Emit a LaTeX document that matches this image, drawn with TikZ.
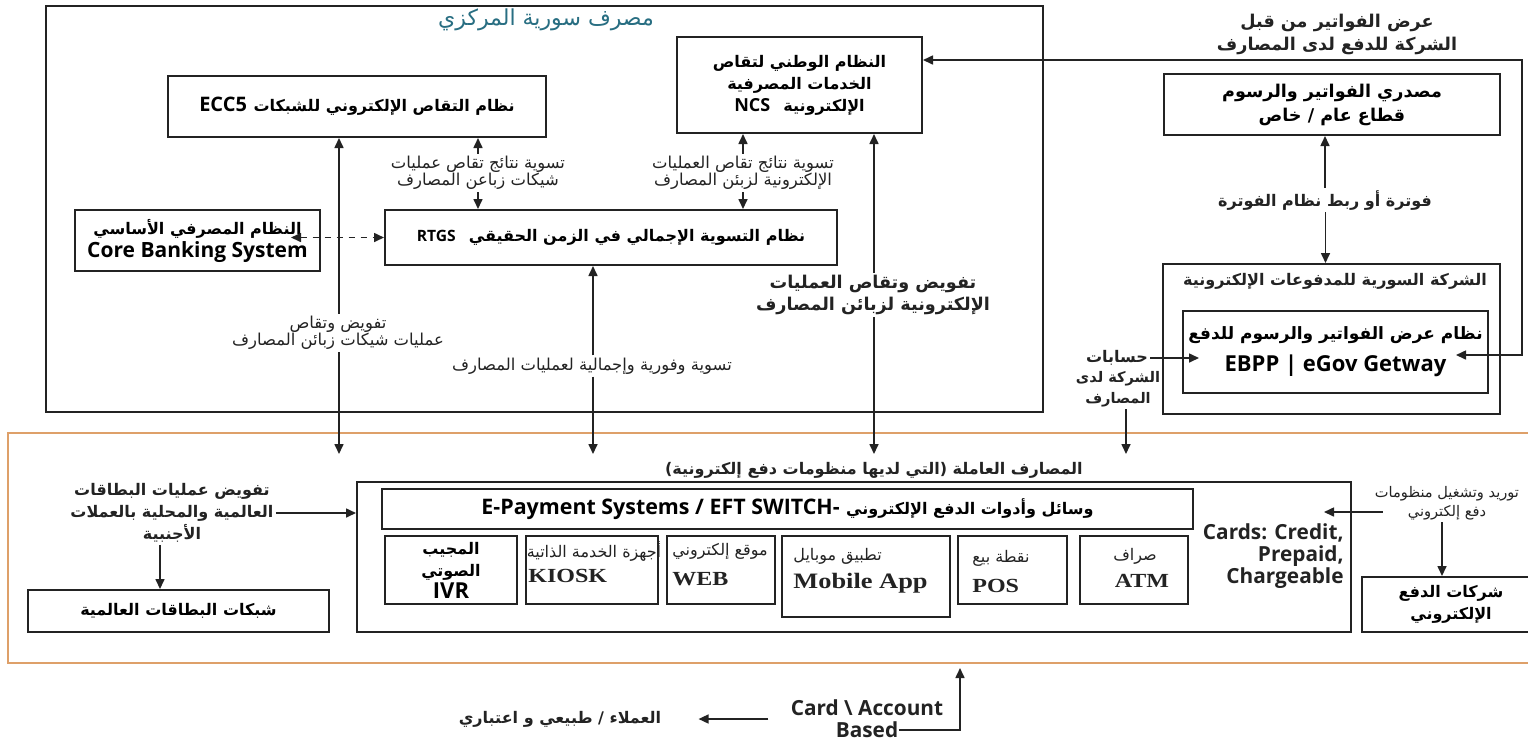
\documentclass[tikz,border=0pt]{standalone}
\usepackage{fontspec}
\usetikzlibrary{arrows.meta,calc}
\TeXXeTstate=1
\newfontfamily\arf[Script=Arabic]{DejaVu Sans}
\newfontfamily\latf{Open Sans}
\newfontfamily\serf[FakeStretch=1.2]{Liberation Serif}
\newdimen\pxu \pxu=0.5pt
\newcommand{\AR}[1]{{\arf\beginR #1\endR}}
\newcommand{\LT}[2][8]{{\latf\fontsize{#1}{11}\selectfont #2}}
\definecolor{ink}{RGB}{35,35,35}
\definecolor{tealt}{RGB}{40,110,130}
\definecolor{orng}{RGB}{222,160,105}
\begin{document}
\begin{tikzpicture}[x=0.5pt,y=-0.5pt,
  >={Triangle[length=5pt,width=4.5pt]},
  box/.style={draw=ink,line width=1pt,inner sep=0pt,align=center,
     font=\bfseries\fontsize{8}{11}\selectfont},
  conn/.style={draw=ink,line width=0.8pt},
  lbl/.style={inner sep=1pt,align=center,text=ink,font=\fontsize{8.2}{8.6}\selectfont},
  blbl/.style={inner sep=1pt,align=center,text=ink,font=\bfseries\fontsize{8}{11}\selectfont},
  arsm/.style={inner sep=0pt,text=ink,font=\fontsize{8}{9}\selectfont},
  serb/.style={inner sep=0pt,text=ink,font=\serf\bfseries\fontsize{10}{12}\selectfont},
  latb/.style={inner sep=0pt,align=right,text=ink,font=\latf\bfseries\fontsize{10.4}{11}\selectfont}
]
\useasboundingbox (0,0) rectangle (1528,741);
\fill[white] (0,0) rectangle (1528,741);

% ---------- boxes ----------
\node[box,minimum width=997\pxu,minimum height=406\pxu] (cb) at (544.5,209) {};
\node[inner sep=0pt,text=tealt,font=\fontsize{11}{12}\selectfont] (cbt) at (546,20) {\AR{مصرف سورية المركزي}};
\node[box,minimum width=378\pxu,minimum height=61\pxu] (ecc5) at (357,106.5)
  {\LT[10]{ECC5}\ \AR{نظام التقاص الإلكتروني للشبكات}};
\node[box,minimum width=245\pxu,minimum height=96\pxu] (ncs) at (799.5,85)
  {\AR{النظام الوطني لتقاص}\\\AR{الخدمات المصرفية}\\\LT[9]{NCS}\ \ \AR{الإلكترونية}};
\node[box,minimum width=452\pxu,minimum height=55\pxu] (rtgs) at (611,237.5)
  {\LT[7.8]{RTGS}\ \ \AR{نظام التسوية الإجمالي في الزمن الحقيقي}};
\node[box,minimum width=245\pxu,minimum height=61\pxu,font=\bfseries\fontsize{8}{11.5}\selectfont] (core) at (197.5,240.5)
  {\AR{النظام المصرفي الأساسي}\\\LT[10.5]{Core Banking System}};

\node[box,minimum width=336\pxu,minimum height=61\pxu,font=\bfseries\fontsize{8.8}{12}\selectfont] (issuer) at (1332,104.5)
  {\AR{مصدري الفواتير والرسوم}\\\AR{قطاع عام / خاص}};
\node[box,minimum width=337\pxu,minimum height=150\pxu] (comp) at (1331.5,339) {};
\node[blbl] (compt) at (1335,281) {\AR{الشركة السورية للمدفوعات الإلكترونية}};
\node[box,minimum width=305\pxu,minimum height=82\pxu,font=\bfseries\fontsize{8.5}{16}\selectfont] (ebpp) at (1335.5,352)
  {\AR{نظام عرض الفواتير والرسوم للدفع}\\\LT[11]{EBPP | eGov Getway}};

\node[draw=orng,line width=1pt,minimum width=1532\pxu,minimum height=230\pxu,inner sep=0pt] (banks) at (774,548) {};
\node[blbl] (bankst) at (874,470) {\AR{المصارف العاملة (التي لديها منظومات دفع إلكترونية)}};
\node[box,minimum width=994\pxu,minimum height=150\pxu] (epay) at (854,557) {};
\node[box,minimum width=811\pxu,minimum height=40\pxu] (eft) at (787.5,509)
  {\LT[10.7]{E-Payment Systems / EFT SWITCH-}\ \AR{وسائل وأدوات الدفع الإلكتروني}};
\node[box,minimum width=132\pxu,minimum height=68\pxu] (ivr) at (451,570)
  {\AR{المجيب}\\\AR{الصوتي}\\\LT[11]{IVR}};
\node[box,minimum width=132\pxu,minimum height=68\pxu] (kiosk) at (592,570) {};
\node[box,minimum width=108\pxu,minimum height=68\pxu] (web) at (721,570) {};
\node[box,minimum width=168\pxu,minimum height=81\pxu] (mob) at (866,576.5) {};
\node[box,minimum width=109\pxu,minimum height=68\pxu] (pos) at (1012.5,570) {};
\node[box,minimum width=108\pxu,minimum height=68\pxu] (atm) at (1134,570) {};
\node[arsm] (kioskA) at (594,551) {\AR{أجهزة الخدمة الذاتية}};
\node[serb,anchor=west] (kioskB) at (528,576) {KIOSK};
\node[arsm] (webA) at (720,551) {\AR{موقع إلكتروني}};
\node[serb,anchor=west] (webB) at (672,579) {WEB};
\node[arsm,anchor=west] (mobA) at (793,556) {\AR{تطبيق موبايل}};
\node[serb,anchor=west,font=\serf\bfseries\fontsize{11}{12}\selectfont] (mobB) at (793,583) {Mobile App};
\node[arsm,anchor=west] (posA) at (972,558) {\AR{نقطة بيع}};
\node[serb,anchor=west] (posB) at (972,586) {POS};
\node[arsm] (atmA) at (1135,556) {\AR{صراف}};
\node[serb] (atmB) at (1142,581) {ATM};
\node[latb,anchor=east] (cards) at (1344,556) {Cards: Credit,\\Prepaid,\\Chargeable};

\node[box,minimum width=301\pxu,minimum height=42\pxu] (cardnet) at (178.5,611)
  {\AR{شبكات البطاقات العالمية}};
\node[box,minimum width=178\pxu,minimum height=55\pxu] (epc) at (1451,604.5)
  {\AR{شركات الدفع}\\\AR{الإلكتروني}};

% ---------- labels ----------
\node[lbl] (lE) at (478,173) {\AR{تسوية نتائج تقاص عمليات}\\\AR{شيكات زباعن المصارف}};
\node[lbl] (lN) at (743,173) {\AR{تسوية نتائج تقاص العمليات}\\\AR{الإلكترونية لزبئن المصارف}};
\node[lbl] (l1) at (338,333) {\AR{تفويض وتقاص}\\\AR{عمليات شيكات زبائن المصارف}};
\node[lbl] (l2) at (592,366) {\AR{تسوية وفورية وإجمالية لعمليات المصارف}};
\node[blbl,font=\bfseries\fontsize{8.8}{11}\selectfont] (l3) at (873,295) {\AR{تفويض وتقاص العمليات}\\\AR{الإلكترونية لزبائن المصارف}};
\node[blbl,font=\bfseries\fontsize{8.8}{11.5}\selectfont] (lbill) at (1337,34) {\AR{عرض الفواتير من قبل}\\\AR{الشركة للدفع لدى المصارف}};
\node[blbl] (lfot) at (1325,200) {\AR{فوترة أو ربط نظام الفوترة}};
\node[blbl] (acc1) at (1117,358) {\AR{حسابات}};
\node[blbl,font=\bfseries\fontsize{7.3}{10.5}\selectfont] (acc2) at (1118,389) {\AR{الشركة لدى}\\\AR{المصارف}};
\node[blbl] (lcard) at (172,513) {\AR{تفويض عمليات البطاقات}\\\AR{العالمية والمحلية بالعملات}\\\AR{الأجنبية}};
\node[lbl,font=\fontsize{7.3}{9.5}\selectfont] (lsup) at (1447,503) {\AR{توريد وتشغيل منظومات}\\\AR{دفع إلكتروني}};
\node[latb,align=center] (cardA) at (867,708) {Card \textbackslash\ Account};
\node[latb,align=center] (cardB) at (867,730) {Based};
\node[blbl] (clients) at (560,719) {\AR{العملاء / طبيعي و اعتباري}};

% ---------- free ends ----------
\coordinate (c1) at (339,454);
\coordinate (c2) at (593,454);
\coordinate (c3) at (874,454);
\coordinate (c4) at (1126,454);
\coordinate (rt) at (1522,60);
\coordinate (rb) at (1522,355);
\coordinate (up) at (960,668);

% ---------- connectors ----------
\draw[conn,->] (lE.north) -- (lE.north |- ecc5.south);
\draw[conn,->] (lE.south) -- (lE.south |- rtgs.north);
\draw[conn,->] (lN.north) -- (lN.north |- ncs.south);
\draw[conn,->] (lN.south) -- (lN.south |- rtgs.north);
\draw[conn,->] (l1.north -| c1) -- (ecc5.south -| c1);
\draw[conn,->] (l1.south -| c1) -- (c1);
\draw[conn,->] (l2.north -| c2) -- (rtgs.south -| c2);
\draw[conn,->] (l2.south -| c2) -- (c2);
\draw[conn,->] (l3.north -| c3) -- (ncs.south -| c3);
\draw[conn,->] (l3.south -| c3) -- (c3);
\draw[conn,<->,dashed] ($(core.east |- rtgs.west)+(-30,0)$) -- (rtgs.west);
\draw[conn,<->] (ncs.east |- rt) -- (rt) -- (rb) -- ($(ebpp.east |- rb)+(-33,0)$);
\draw[conn,->] ($(lfot.north -| issuer.south)+(-7,0)$) -- ($(issuer.south)+(-7,0)$);
\draw[conn,->] ($(lfot.south -| comp.north)+(-6,0)$) -- ($(comp.north)+(-6,0)$);
\draw[conn,->] (acc1.east) -- ($(ebpp.west |- acc1.east)+(17,0)$);
\draw[conn,->] (acc2.south -| c4) -- (c4);
\draw[conn,->] (lcard.east) -- (lcard.east -| epay.west);
\draw[conn,->] ($(lcard.south)+(-12,0)$) -- ($(lcard.south |- cardnet.north)+(-12,0)$);
\draw[conn,->] ($(lsup.west)+(10,9)$) -- ($(epay.east |- lsup.west)+(-28,9)$);
\draw[conn,->] ($(lsup.south)+(-5,0)$) -- ($(lsup.south |- epc.north)+(-5,0)$);
\draw[conn,->] ($(clients.east -| cardA.west)+(-22,0)$) -- ($(clients.east)+(35,0)$);
\draw[conn,->] (cardB.east) -| (up);
\end{tikzpicture}
\end{document}
